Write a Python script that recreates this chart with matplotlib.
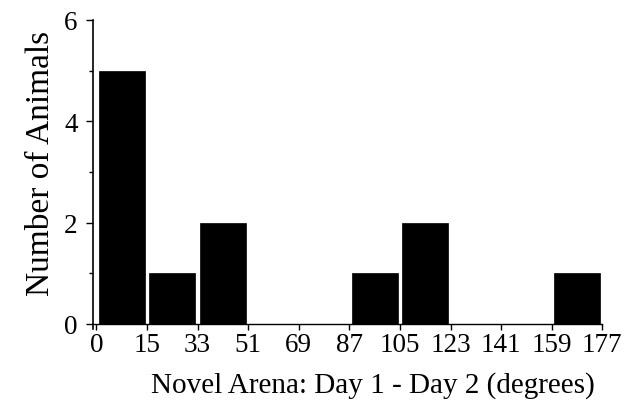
import matplotlib
matplotlib.use("Agg")
import matplotlib.pyplot as plt
from matplotlib.ticker import MultipleLocator

# Angular difference bins (degrees) and counts per bin
bin_edges = ["0", "15", "33", "51", "69", "87", "105", "123", "141", "159", "177"]
counts = [5, 1, 2, 0, 0, 1, 2, 0, 0, 1]

plt.rcParams["font.family"] = ["Liberation Serif", "DejaVu Serif"]

fig = plt.figure(figsize=(6.32, 4.10), dpi=100)
ax = fig.add_axes([0.147, 0.195, 0.806, 0.754])

positions = [i + 0.5 for i in range(len(counts))]
ax.bar(positions, counts, width=0.91, color="black", edgecolor="black", linewidth=0.5)

ax.set_xlim(-0.07, 10.0)
ax.set_ylim(-0.1, 6)

ax.set_xticks(range(len(bin_edges)))
ax.set_xticklabels(bin_edges)
ax.set_yticks([0, 2, 4, 6])
ax.yaxis.set_minor_locator(MultipleLocator(1))

for side in ("top", "right"):
    ax.spines[side].set_visible(False)
ax.spines["bottom"].set_position(("data", 0))
ax.spines["bottom"].set_linewidth(1.0)
ax.spines["left"].set_linewidth(1.2)

ax.tick_params(axis="x", direction="out", length=4, width=1.0, labelsize=19.5, pad=2)
ax.tick_params(axis="y", which="major", direction="out", length=5, width=1.0, labelsize=19.5, pad=6)
ax.tick_params(axis="y", which="minor", direction="out", length=3, width=1.0)

ax.set_xlabel("Novel Arena: Day 1 - Day 2 (degrees)", fontsize=21, labelpad=10)
ax.xaxis.label.set_x(0.55)
ax.set_ylabel("Number of Animals", fontsize=24, labelpad=6)
ax.yaxis.label.set_y(0.54)

fig.savefig("out.png", dpi=100)
